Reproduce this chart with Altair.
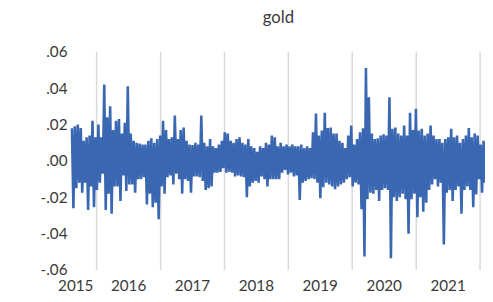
import altair as alt
import pandas as pd

high = [18, 19, 20, 18, 11, 13, 14, 22, 13, 20, 13, 42, 24, 30, 17, 22, 23, 15, 21, 41,
        15, 11, 10, 9.5, 9, 9, 11, 12.4, 10, 12, 14, 22, 17, 12, 13, 25, 12, 17, 18.4, 11,
        9, 8.7, 10, 9, 25, 10, 8, 12, 8, 7, 9, 11, 15.7, 15, 11, 10, 12, 13, 10, 9,
        12, 8, 7, 5, 8, 7, 10, 9, 14, 13, 8, 10, 8, 9, 8, 9, 8, 8, 9, 7,
        8, 7, 15.7, 26, 14, 16.7, 26.5, 18, 18.4, 15, 15, 11, 10, 7, 14, 19.5, 9, 12, 15.7, 18,
        51, 35, 15, 12, 12.4, 14, 14.6, 14, 35, 17.7, 18.4, 15, 14, 19.5, 14, 26.5, 17, 28.7, 16.7, 17.7,
        14, 15, 19.5, 14, 12, 12, 10, 12, 13, 17.7, 13, 14, 10, 12, 14, 18, 13, 15, 14, 9,
        11]
low = [-26, -15, -12, -17.5, -12, -27, -14, -25.5, -16, -12, -7, -27, -18, -29, -14, -14, -22, -8, -16.5, -13,
       -13, -17.5, -10, -10, -9, -24, -18, -25.5, -23, -32, -14, -18, -9, -8, -13, -7, -10, -18, -10, -11,
       -17.5, -8.5, -8.5, -9, -11, -16, -15, -14, -6.5, -6.5, -6, -4, -6.5, -6, -6.5, -8.5, -8, -8.5, -9, -20,
       -14, -12, -11, -12, -8.5, -10, -14, -10, -10, -10, -10, -6.5, -5, -7.5, -6.5, -8.5, -8, -21.5, -12, -11,
       -10, -9.5, -10, -12, -20.5, -14.5, -12, -13, -14, -15.5, -14, -13, -12, -10, -9, -14, -12, -13, -26.5, -52.5,
       -21, -17.5, -18, -16, -22, -16, -15, -16, -53.5, -20, -22, -20, -18, -21, -40, -21, -18, -31, -20, -28,
       -23, -16, -13, -10, -14, -12, -46, -17.5, -16, -22, -16, -14, -29, -16, -14, -16, -25.5, -18.5, -10, -17.5,
       -12]

start_date = "2015-08-13"
end_date = "2022-01-29"
grid_dates = ["2016-01-01", "2017-01-01", "2018-01-01", "2019-01-01",
              "2020-01-01", "2021-01-01", "2022-01-01"]
year_labels = ["2015", "2016", "2017", "2018", "2019", "2020", "2021"]
label_dates = ["2015-09-04", "2016-07-02", "2017-07-02", "2018-07-02",
               "2019-07-02", "2020-07-02", "2021-07-02"]
y_ticks = [-0.06, -0.04, -0.02, 0.0, 0.02, 0.04, 0.06]

values = []
for h, l in zip(high, low):
    values.append(h / 1000.0)
    values.append(l / 1000.0)
dates = pd.date_range(start_date, end_date, periods=len(values))
df = pd.DataFrame({"date": dates, "ret": values})

grid_df = pd.DataFrame({"date": pd.to_datetime(grid_dates)})
lab_df = pd.DataFrame({"date": pd.to_datetime(label_dates), "year": year_labels})

FONT = "Lato"
TXT = "#3A3A3A"

xscale = alt.Scale(domain=[pd.Timestamp(start_date).isoformat(), pd.Timestamp(end_date).isoformat()])
yscale = alt.Scale(domain=[-0.06, 0.06], nice=False)

grid = alt.Chart(grid_df).mark_rule(color="#D9D9D9", strokeWidth=1.5).encode(
    x=alt.X("date:T", scale=xscale, axis=None)
)

line = alt.Chart(df).mark_line(color="#3A67B1", strokeWidth=2.6, strokeJoin="miter", strokeMiterLimit=2).encode(
    x=alt.X("date:T", scale=xscale, axis=None),
    y=alt.Y("ret:Q", scale=yscale,
            axis=alt.Axis(values=y_ticks, title=None, grid=False, domain=False, ticks=False,
                          labelPadding=5, labelFont=FONT, labelFontSize=15.5, labelColor=TXT,
                          labelExpr="(datum.value < 0 ? '-' : '') + replace(format(abs(datum.value), '.2f'), '0.', '.')")),
)

labels = alt.Chart(lab_df).mark_text(font=FONT, fontSize=15.5, color=TXT, baseline="middle", align="center").encode(
    x=alt.X("date:T", scale=xscale, axis=None),
    y=alt.value(238),
    text="year:N",
)

chart = alt.layer(grid, line, labels).properties(
    width=420,
    height=222,
    padding={"left": 65, "top": 42, "right": 0, "bottom": 30},
    autosize=alt.AutoSizeParams(type="none"),
    title=alt.TitleParams("gold", font=FONT, fontSize=17, fontWeight="normal", color=TXT,
                          anchor="middle", offset=18),
).configure_view(stroke=None)

chart.save("out.html", embed_options={"renderer": "svg", "actions": False})
